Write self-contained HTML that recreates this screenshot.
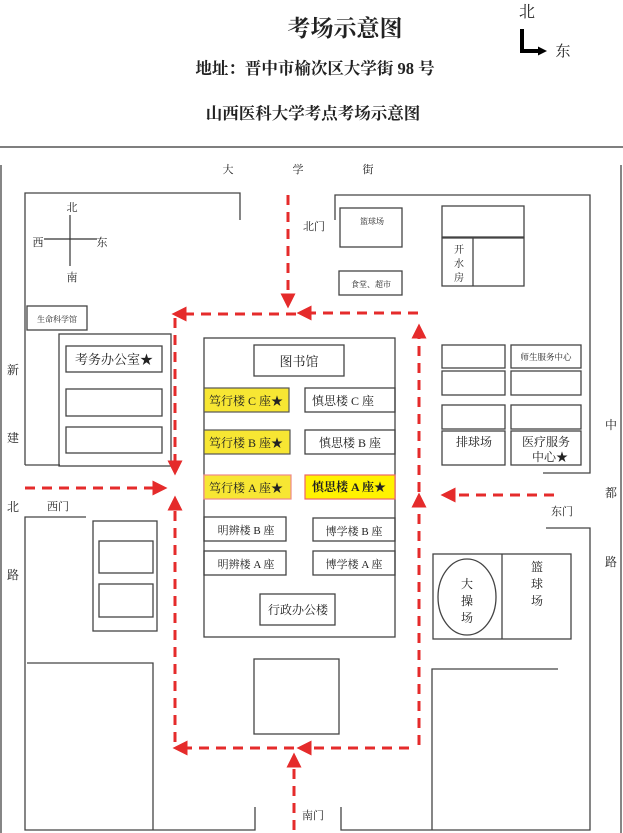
<!DOCTYPE html>
<html><head><meta charset="utf-8"><style>
html,body{margin:0;padding:0;background:#fff;}
svg{display:block;}
text{font-family:"Liberation Serif","Noto Serif CJK SC",serif;fill:#222;}
</style></head><body>
<svg width="623" height="833" viewBox="0 0 623 833" xmlns="http://www.w3.org/2000/svg">
<defs>
<marker id="ah" markerWidth="5" markerHeight="5" refX="2.5" refY="2.5" orient="auto" markerUnits="strokeWidth"><path d="M0,0 L5,2.5 L0,5 z" fill="#e52b2b"/></marker>
<marker id="bk" markerWidth="9" markerHeight="9" refX="4" refY="4.5" orient="auto" markerUnits="userSpaceOnUse"><path d="M0,0 L9,4.5 L0,9 z" fill="#000"/></marker>
</defs>
<!-- header -->
<text x="345" y="36" font-size="23" font-weight="bold" text-anchor="middle" fill="#000">考场示意图</text>
<text x="527" y="17" font-size="16" text-anchor="middle" fill="#000">北</text>
<path d="M522,29 V51 H542" fill="none" stroke="#000" stroke-width="4" marker-end="url(#bk)"/>
<text x="563" y="56" font-size="15" text-anchor="middle" fill="#000">东</text>
<text x="315" y="74" font-size="16.5" font-weight="bold" text-anchor="middle" fill="#000">地址：晋中市榆次区大学街 98 号</text>
<text x="313" y="119" font-size="16.5" font-weight="bold" text-anchor="middle" fill="#000">山西医科大学考点考场示意图</text>
<line x1="0" y1="147" x2="623" y2="147" stroke="#555" stroke-width="1.5"/>

<g fill="none" stroke="#444" stroke-width="1.3">
<line x1="1" y1="165" x2="1" y2="833"/>
<line x1="621" y1="165" x2="621" y2="833"/>
<path d="M25,465 V193 H240 V220"/>
<line x1="25" y1="465" x2="60" y2="465"/>
<rect x="27" y="306" width="60" height="24"/>
<rect x="59" y="334" width="112" height="132"/>
<rect x="66" y="346" width="96" height="26"/>
<rect x="66" y="389" width="96" height="27"/>
<rect x="66" y="427" width="96" height="26"/>
<path d="M335,220 V195 H590 V473 H543"/>
<rect x="340" y="208" width="62" height="39"/>
<rect x="339" y="271" width="63" height="24"/>
<rect x="442" y="206" width="82" height="31"/>
<rect x="442" y="238" width="82" height="48"/>
<line x1="473" y1="238" x2="473" y2="286"/>
<rect x="442" y="345" width="63" height="23"/>
<rect x="511" y="345" width="70" height="23"/>
<rect x="442" y="371" width="63" height="24"/>
<rect x="511" y="371" width="70" height="24"/>
<rect x="442" y="405" width="63" height="24"/>
<rect x="511" y="405" width="70" height="24"/>
<rect x="442" y="431" width="63" height="34"/>
<rect x="511" y="431" width="70" height="34"/>
<rect x="204" y="338" width="191" height="299"/>
<rect x="254" y="345" width="90" height="31"/>
<rect x="305" y="388" width="90" height="24"/>
<rect x="305" y="430" width="90" height="24"/>
<rect x="204" y="517" width="82" height="24"/>
<rect x="313" y="518" width="82" height="23"/>
<rect x="204" y="551" width="82" height="24"/>
<rect x="313" y="551" width="82" height="24"/>
<rect x="260" y="594" width="75" height="31"/>
<rect x="254" y="659" width="85" height="75"/>
<path d="M86,517 H25 V830 H255 V807"/>
<rect x="93" y="521" width="64" height="110"/>
<rect x="99" y="541" width="54" height="32"/>
<rect x="99" y="584" width="54" height="33"/>
<path d="M27,663 H153 V830"/>
<path d="M341,807 V830 H590 V528 H546"/>
<rect x="433" y="554" width="138" height="85"/>
<line x1="502" y1="554" x2="502" y2="639"/>
<ellipse cx="467" cy="597" rx="29" ry="38"/>
<path d="M558,669 H432 V830"/>
</g>
<rect x="204" y="388" width="85" height="24" fill="#f7e633" stroke="#555" stroke-width="1.2"/>
<rect x="204" y="430" width="86" height="24" fill="#f7e633" stroke="#555" stroke-width="1.2"/>
<rect x="204" y="475" width="87" height="24" fill="#f7e633" stroke="#e88" stroke-width="1.2"/>
<rect x="305" y="475" width="90" height="24" fill="#fff200" stroke="#e66" stroke-width="1.2"/>

<g stroke="#333" stroke-width="1.2"><line x1="70" y1="215" x2="70" y2="266"/><line x1="44" y1="239" x2="97" y2="239"/></g>

<g fill="none" stroke="#e52b2b" stroke-width="3" stroke-dasharray="10,7">
<line x1="288" y1="195" x2="288" y2="301" marker-end="url(#ah)"/>
<line x1="418" y1="313" x2="304" y2="313" marker-end="url(#ah)"/>
<line x1="296" y1="314" x2="179" y2="314" marker-end="url(#ah)"/>
<line x1="175" y1="318" x2="175" y2="468" marker-end="url(#ah)"/>
<line x1="25" y1="488" x2="160" y2="488" marker-end="url(#ah)"/>
<line x1="175" y1="742" x2="175" y2="503" marker-end="url(#ah)"/>
<line x1="409" y1="748" x2="304" y2="748" marker-end="url(#ah)"/>
<line x1="294" y1="748" x2="180" y2="748" marker-end="url(#ah)"/>
<line x1="294" y1="830" x2="294" y2="760" marker-end="url(#ah)"/>
<line x1="419" y1="745" x2="419" y2="500" marker-end="url(#ah)"/>
<line x1="419" y1="492" x2="419" y2="331" marker-end="url(#ah)"/>
<line x1="554" y1="495" x2="448" y2="495" marker-end="url(#ah)"/>
</g>

<g font-size="11" text-anchor="middle">
<text x="228" y="173">大</text><text x="298" y="173">学</text><text x="368" y="173">街</text>
<text x="72" y="211">北</text><text x="38" y="246">西</text><text x="102" y="246">东</text><text x="72" y="281">南</text>
<text x="314" y="230">北门</text>
<text x="372" y="224" font-size="8">篮球场</text>
<text x="371" y="287" font-size="8">食堂、超市</text>
<text x="459" y="253" font-size="10">开</text><text x="459" y="267" font-size="10">水</text><text x="459" y="281" font-size="10">房</text>
<text x="57" y="322" font-size="8">生命科学馆</text>
<text x="114" y="364" font-size="13">考务办公室★</text>
<text x="299" y="366" font-size="13">图书馆</text>
<text x="546" y="360" font-size="8.5">师生服务中心</text>
<text x="474" y="446" font-size="12">排球场</text>
<text x="546" y="446" font-size="12">医疗服务</text>
<text x="550" y="461" font-size="12">中心★</text>
<text x="246" y="405" font-size="12">笃行楼 C 座★</text>
<text x="343" y="405" font-size="12">慎思楼 C 座</text>
<text x="246" y="447" font-size="12">笃行楼 B 座★</text>
<text x="350" y="447" font-size="12">慎思楼 B 座</text>
<text x="246" y="492" font-size="12">笃行楼 A 座★</text>
<text x="349" y="491" font-size="12" font-weight="bold" fill="#000">慎思楼 A 座★</text>
<text x="246" y="534" font-size="11">明辨楼 B 座</text>
<text x="354" y="535" font-size="11">博学楼 B 座</text>
<text x="246" y="568" font-size="11">明辨楼 A 座</text>
<text x="354" y="568" font-size="11">博学楼 A 座</text>
<text x="298" y="614" font-size="12">行政办公楼</text>
<text x="13" y="374" font-size="12">新</text><text x="13" y="442" font-size="12">建</text>
<text x="13" y="511" font-size="12">北</text><text x="13" y="579" font-size="12">路</text>
<text x="611" y="429" font-size="12">中</text><text x="611" y="497" font-size="12">都</text><text x="611" y="566" font-size="12">路</text>
<text x="58" y="510">西门</text>
<text x="562" y="515">东门</text>
<text x="313" y="819">南门</text>
<text x="467" y="588" font-size="12">大</text><text x="467" y="605" font-size="12">操</text><text x="467" y="622" font-size="12">场</text>
<text x="537" y="571" font-size="12">篮</text><text x="537" y="588" font-size="12">球</text><text x="537" y="605" font-size="12">场</text>
</g>
</svg>
</body></html>
